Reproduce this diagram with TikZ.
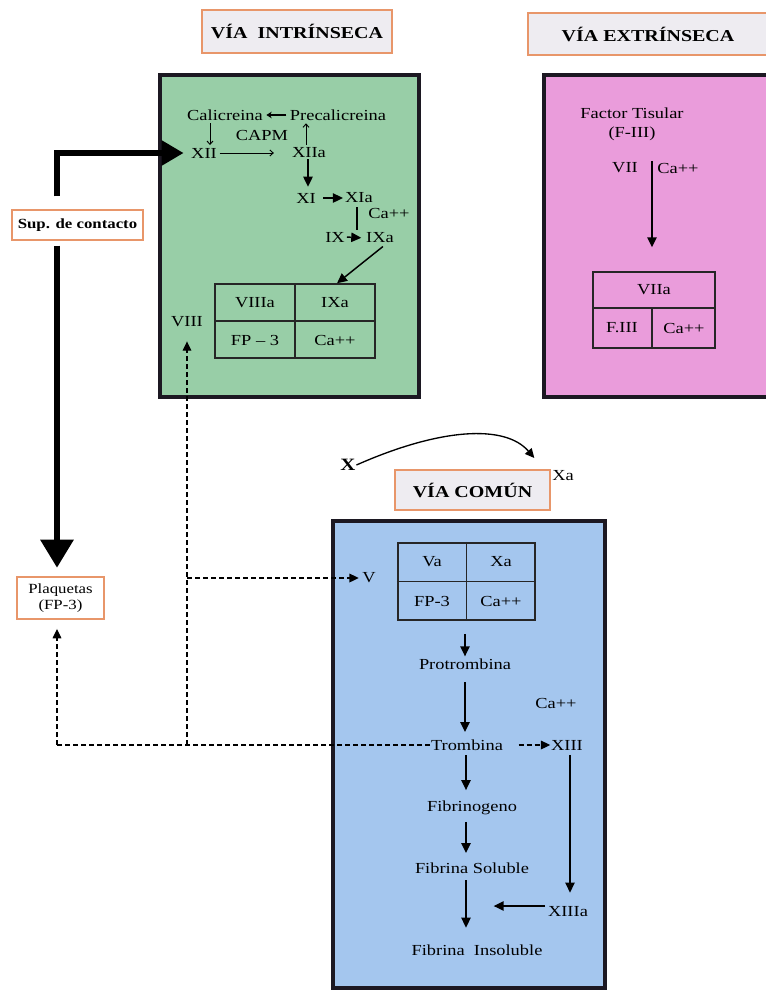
\documentclass[tikz,border=0pt]{standalone}
\usepackage{fontspec}
\setmainfont{Liberation Serif}[FakeStretch=1.2]
\usetikzlibrary{arrows.meta,calc}

\definecolor{viaGreen}{RGB}{152,206,167}
\definecolor{viaPink}{RGB}{234,156,219}
\definecolor{viaBlue}{RGB}{164,198,238}
\definecolor{tagFill}{RGB}{238,236,241}
\definecolor{tagLine}{RGB}{232,150,106}
\definecolor{frameDark}{RGB}{28,24,34}

\begin{document}
\begin{tikzpicture}[x=0.75pt,y=-0.75pt,
  font=\fontsize{11.5}{13}\selectfont,
  every node/.style={inner sep=0.5pt},
  panel/.style={draw=frameDark,line width=3pt,inner sep=0pt},
  tag/.style={draw=tagLine,fill=tagFill,line width=1.1pt,
    font=\fontsize{12.5}{14}\selectfont\bfseries,inner sep=0pt},
  lbl/.style={draw=tagLine,fill=white,line width=0.9pt,align=center,inner sep=0pt},
  grid/.style={draw=black!85,line width=1.1pt,inner sep=0pt},
  flow/.style={line width=1.1pt,-{Triangle[length=7.5pt,width=7pt]}},
  fine/.style={line width=0.7pt,-{Straight Barb[length=2.5pt,width=4.5pt]}},
  dashline/.style={line width=0.9pt,dash pattern=on 3.75pt off 2.25pt},
  dashflow/.style={dashline,-{Triangle[length=7pt,width=6.5pt]}},
]
\useasboundingbox (0,0) rectangle (765,990);
\coordinate (spine) at (57,0);

% ---- titles ----
\node[tag,minimum width=142.5pt,minimum height=32.25pt] (tin) at (297,31.5) {VÍA\ \ INTRÍNSECA};
\node[tag,minimum width=180pt,minimum height=31.5pt] (tex) at (648,34) {VÍA EXTRÍNSECA};
\node[tag,minimum width=116.25pt,minimum height=30pt] (tcom) at (472.5,490) {VÍA COMÚN};

% ---- panels ----
\node[panel,fill=viaGreen,minimum width=194.25pt,minimum height=241.5pt] (green) at (289.5,236) {};
\node[panel,fill=viaPink,minimum width=177pt,minimum height=241.5pt] (pink) at (662,236) {};
\node[panel,fill=viaBlue,minimum width=204pt,minimum height=350.25pt] (blue) at (469,754.5) {};

% ---- side labels ----
\node[lbl,font=\fontsize{10.5}{12}\selectfont\bfseries,minimum width=98.25pt,minimum height=22.5pt] (sup) at (77.5,225) {Sup. de contacto};
\node[lbl,font=\fontsize{10.5}{12.5}\selectfont,minimum width=65.25pt,minimum height=31.5pt] (plq) at (60.5,598) {Plaquetas\\(FP-3)};

% ---- intrinsic pathway ----
\node (cal) at (225,115) {Calicreina};
\node (pcal) at (338,115) {Precalicreina};
\node (capm) at (262,135) {CAPM};
\node (xii) at (204,153) {XII};
\node (xiia) at (309,153) {XIIa};
\node (xi) at (306,198) {XI};
\node (xia) at (359,198) {XIa};
\node (cag1) at (389,213) {Ca++};
\node (ix) at (335,237) {IX};
\node (ixa) at (380,238) {IXa};

\node[grid,minimum width=120pt,minimum height=55.5pt] (gtab) at (295,321) {};
\draw[grid] (gtab.west) -- (gtab.east);
\draw[grid] (gtab.north) -- (gtab.south);
\node (viiia) at (255,303) {VIIIa};
\node (ixb) at (335,303) {IXa};
\node (fpg) at (255,340) {FP – 3};
\node (cag2) at (335,340) {Ca++};
\node (viii) at (187,322) {VIII};

\draw[line width=1pt,-{Stealth[length=4pt,width=5pt]},shorten <=2pt,shorten >=2pt] (pcal.west) -- (cal.east);
\draw[fine] ($(cal.south)+(-15,2)$) -- ($(xii.north)+(6,-2)$);
\draw[fine] ($(xiia.north)+(-3,-2)$) -- ($(xiia.north |- pcal.south)+(-3,2)$);
\draw[fine,shorten <=1.5pt,shorten >=13pt] (xii.east) -- (xiia.west);
\draw[flow,shorten >=4pt] ($(xiia.south)+(-1,0)$) -- ($(xiia.south |- xi.north)+(-1,0)$);
\draw[flow,shorten <=5pt,shorten >=1pt] (xi.east) -- (xia.west);
\draw[line width=1.1pt] ($(xia.south)+(-2,3)$) -- ($(xia.south)+(-2,26)$);
\draw[flow,shorten <=1pt,shorten >=3pt] (ix.east) -- (ixa.west);
\draw[flow,shorten <=3pt] ($(ixa.south)+(6,0)$) -- ($(gtab.north)+(42,0)$);

% ---- extrinsic pathway ----
\node[align=center,font=\fontsize{11.5}{14}\selectfont] (ft) at (632,124) {Factor Tisular\\(F-III)};
\node (vii) at (625,168) {VII};
\node (cap1) at (678,168) {Ca++};
\node[grid,minimum width=91.5pt,minimum height=57pt] (ptab) at (654,310) {};
\coordinate (pk) at ($(ptab.north)+(-2,0)$);
\draw[grid] ($(ptab.west)+(0,-2)$) -- ($(ptab.east)+(0,-2)$);
\draw[grid] ($(ptab.center)+(-2,-2)$) -- ($(ptab.south)+(-2,0)$);
\node (viia) at (654,290) {VIIa};
\node (fiii) at (622,328) {F.III};
\node (cap2) at (684,328) {Ca++};
\draw[flow,shorten >=18pt] ($(pk |- vii.north)+(0,-1)$) -- (pk);

% ---- common pathway ----
\node[font=\fontsize{13}{14}\selectfont\bfseries] (xf) at (348,465) {X};
\node (xaf) at (563,476) {Xa};
\draw[line width=1pt,-{Triangle[length=7pt,width=6.5pt]}] (xf.east) .. controls (440,428) and (505,424) .. ($(xaf.west)+(-17,-18)$);

\node[grid,line width=1.8pt,minimum width=102.75pt,minimum height=57.75pt] (btab) at (466.5,581.5) {};
\draw[grid] (btab.west) -- (btab.east);
\draw[grid] (btab.north) -- (btab.south);
\node (va) at (432,562) {Va};
\node (xa) at (501,562) {Xa};
\node (fpb) at (432,601) {FP-3};
\node (cab1) at (501,601) {Ca++};
\node (vf) at (369,578) {V};

\node (prot) at (465,664) {Protrombina};
\node (cab2) at (556,703) {Ca++};
\node (tromb) at (467,745) {Trombina};
\node (fgeno) at (472,808) {Fibrinogeno};
\node (fsol) at (472,868) {Fibrina Soluble};
\node (fins) at (477,950) {Fibrina\ \ Insoluble};
\node (xiii) at (567,745) {XIII};
\node (xiiia) at (568,912) {XIIIa};

\draw[flow,shorten <=9.5pt,shorten >=1pt] ($(btab.south)+(-1.5,0)$) -- ($(btab.south |- prot.north)+(-1.5,0)$);
\draw[flow,shorten <=9pt,shorten >=5pt] (prot.south) -- (prot.south |- tromb.north);
\draw[flow,shorten <=3pt,shorten >=7.5pt] ($(tromb.south)+(-1,0)$) -- ($(tromb.south |- fgeno.north)+(-1,0)$);
\draw[flow,shorten <=4.5pt,shorten >=6.5pt] ($(tromb.south |- fgeno.south)+(-1,0)$) -- ($(tromb.south |- fsol.north)+(-1,0)$);
\draw[flow,shorten <=4.5pt,shorten >=12pt] ($(tromb.south |- fsol.south)+(-1,0)$) -- ($(tromb.south |- fins.north)+(-1,0)$);
\draw[flow,shorten <=3pt,shorten >=10pt] ($(xiii.south)+(3,0)$) -- ($(xiii.south |- xiiia.north)+(3,0)$);
\draw[flow,shorten >=20pt] ($(xiiia.west)+(-2,-6)$) -- ($(xiiia.west -| tromb.south)+(0,-6)$);

% ---- feedback from thrombin (dashed) ----
\draw[dashflow,shorten <=11pt] (tromb.east) -- (xiii.west);
\draw[dashline] (tromb.west) -- (tromb.west -| spine);
\draw[dashflow,shorten >=7pt] (tromb.west -| spine) -- (plq.south -| spine);
\draw[dashflow,shorten >=10pt] (tromb.west -| viii) -- (viii.south);
\draw[dashflow,shorten >=2pt] (vf -| viii) -- (vf.west);

% ---- contact surface ----
\draw[line width=4.5pt,line join=miter,-{Triangle[length=16.5pt,width=18pt]},shorten >=5pt]
  ($(sup.north -| spine)+(0,-13)$) |- (xii.west);
\draw[line width=4.5pt,-{Triangle[length=21pt,width=24pt]},shorten >=6.5pt]
  ($(sup.south -| spine)+(0,5)$) -- (plq.north -| spine);
\end{tikzpicture}
\end{document}
